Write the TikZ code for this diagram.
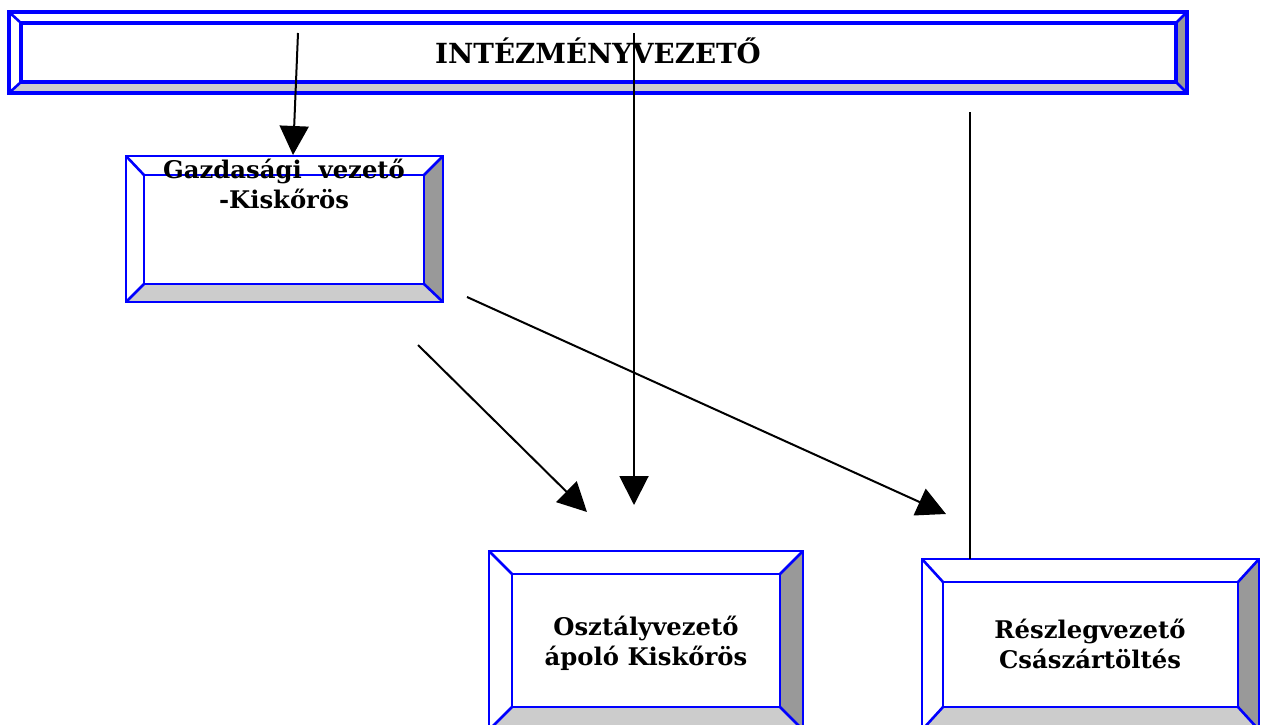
\documentclass[tikz,border=0pt]{standalone}
\usepackage{fontspec}
\setmainfont{DejaVu Serif}
\usetikzlibrary{arrows.meta}
\definecolor{bvblue}{HTML}{0000FF}
\definecolor{bvlight}{HTML}{CCCCCC}
\definecolor{bvdark}{HTML}{999999}
\tikzset{
  bevelline/.style={draw=bvblue, line width=2.6pt, line join=miter},
  conn/.style={draw=black, line width=2pt, -{Triangle[length=29pt,width=29pt]}},
  plainconn/.style={draw=black, line width=2pt},
  lbl/.style={font=\bfseries\fontsize{24.3}{30}\selectfont, align=center, anchor=base, inner sep=0pt},
  title/.style={font=\bfseries\fontsize{27.7}{30}\selectfont, anchor=base, inner sep=0pt}
}
% \bevbox[line width]{x1}{y1}{x2}{y2}{l}{t}{r}{b}
\newcommand{\bevbox}[9][2.9pt]{%
  \fill[white] (#2,#3) -- (#4,#3) -- ({#4-#8},{#3+#7}) -- ({#2+#6},{#3+#7}) -- cycle;
  \fill[white] (#2,#3) -- ({#2+#6},{#3+#7}) -- ({#2+#6},{#5-#9}) -- (#2,#5) -- cycle;
  \fill[bvlight] (#2,#5) -- (#4,#5) -- ({#4-#8},{#5-#9}) -- ({#2+#6},{#5-#9}) -- cycle;
  \fill[bvdark] (#4,#3) -- (#4,#5) -- ({#4-#8},{#5-#9}) -- ({#4-#8},{#3+#7}) -- cycle;
  \draw[bevelline, line width=#1] (#2,#3) rectangle (#4,#5);
  \draw[bevelline, line width=#1] ({#2+#6},{#3+#7}) rectangle ({#4-#8},{#5-#9});
  \draw[bevelline] (#2,#3) -- ({#2+#6},{#3+#7});
  \draw[bevelline] (#4,#3) -- ({#4-#8},{#3+#7});
  \draw[bevelline] (#2,#5) -- ({#2+#6},{#5-#9});
  \draw[bevelline] (#4,#5) -- ({#4-#8},{#5-#9});
}
\begin{document}
\begin{tikzpicture}[x=1pt,y=-1pt]
\useasboundingbox (0,0) rectangle (1263,725);
\begin{scope}
\clip (0,0) rectangle (1263,725);
\bevbox[3.2pt]{9}{12}{1187}{93}{12}{11}{11}{11}
\bevbox{126}{156}{443}{302}{18}{19}{19}{18}
\bevbox{489}{551}{803}{730}{23}{23}{23}{23}
\bevbox{922}{559}{1259}{730}{21}{23}{21}{23}
\end{scope}
\node[title] (ceo) at (598,63.5) {INTÉZMÉNYVEZETŐ};
\node[lbl] (gazd) at (284,208) {Gazdasági\ \ vezető\\-Kiskőrös};
\node[lbl] (oszt) at (646,665) {Osztályvezető\\ápoló Kiskőrös};
\node[lbl] (resz) at (1090,668) {Részlegvezető\\Császártöltés};
% connector ends
\coordinate (a1s) at (298,33);
\coordinate (a1e) at (293,155);
\coordinate (a2s) at (634,33);
\coordinate (a2e) at (634,505);
\coordinate (a3s) at (418,345);
\coordinate (a3e) at (587,512);
\coordinate (a4s) at (467,297);
\coordinate (a4e) at (946,514);
\coordinate (l1s) at (970,112);
\coordinate (l1e) at (970,559);
\draw[conn] (a1s) -- (a1e);
\draw[conn] (a2s) -- (a2e);
\draw[conn] (a3s) -- (a3e);
\draw[conn] (a4s) -- (a4e);
\draw[plainconn] (l1s) -- (l1e);
\end{tikzpicture}
\end{document}
